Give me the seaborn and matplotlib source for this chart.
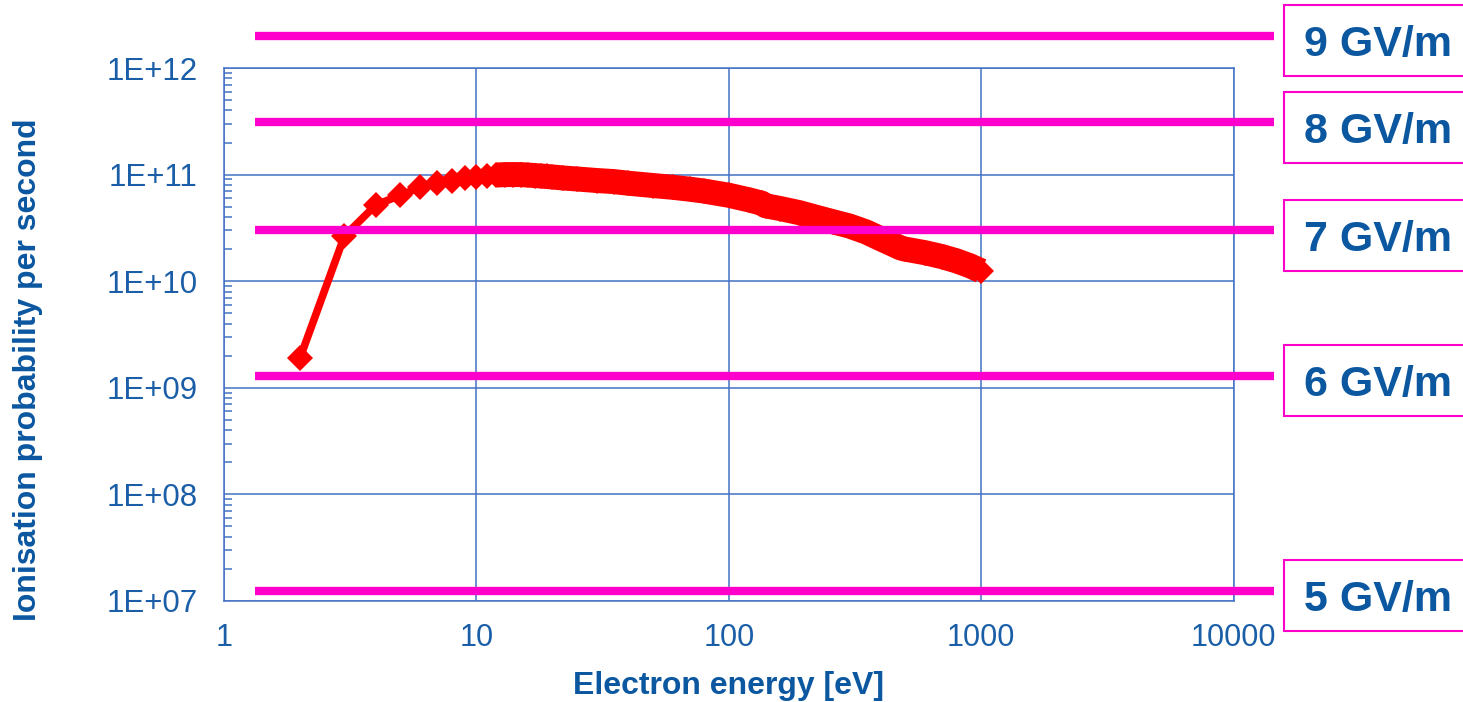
import numpy as np
import pandas as pd
import matplotlib
matplotlib.use("Agg")
import matplotlib.pyplot as plt
import seaborn as sns
from matplotlib.ticker import FixedLocator, LogLocator, FuncFormatter, NullFormatter
from matplotlib.patches import Rectangle
from matplotlib.transforms import IdentityTransform

# ---------------- data ----------------
energy_eV = [2, 3, 4, 5, 6, 7, 8, 9, 10, 11, 12, 13, 14, 15, 16, 17, 18, 19, 20,
             22, 25, 30, 35, 40, 50, 60, 70, 80, 100, 120, 135, 140, 160, 190,
             220, 260, 300, 350, 400, 450, 480, 500, 600, 700, 800, 900, 1000]
ion_prob = [1.9e9, 2.65e10, 5.2e10, 6.4e10, 7.6e10, 8.3e10, 8.8e10, 9.2e10, 9.5e10,
            9.8e10, 9.9e10, 1.0e11, 1.0e11, 1.0e11, 9.9e10, 9.8e10, 9.7e10, 9.6e10, 9.5e10,
            9.3e10, 9.1e10, 8.8e10, 8.6e10, 8.3e10, 7.9e10, 7.6e10, 7.3e10, 7.0e10,
            6.4e10, 5.8e10, 5.4e10, 5.1e10, 4.8e10, 4.4e10, 4.0e10, 3.6e10, 3.3e10,
            2.9e10, 2.5e10, 2.2e10, 2.05e10, 2.0e10, 1.85e10, 1.7e10, 1.55e10, 1.4e10, 1.25e10]

field_labels = ["9 GV/m", "8 GV/m", "7 GV/m", "6 GV/m", "5 GV/m"]
field_levels = [2.0e12, 3.1e11, 3.0e10, 1.3e9, 1.25e7]

x_ticks = [1, 10, 100, 1000, 10000]
y_ticks = [1e7, 1e8, 1e9, 1e10, 1e11, 1e12]

x_label = "Electron energy [eV]"
y_label = "Ionisation probability per second"

# ---------------- style ----------------
sns.set_style("white")
plt.rcParams["font.family"] = ["Liberation Sans", "DejaVu Sans"]

GRID = "#4472C4"
RED = "#FF0000"
MAGENTA = "#FF00CC"
TXT = "#1A5EA8"
BOLD_TXT = "#0B57A0"

W, H = 1463, 702
fig = plt.figure(figsize=(W / 100, H / 100), dpi=100)
ax = fig.add_axes([224 / W, 101 / H, (1233.5 - 224) / W, (601 - 68) / H])

df = pd.DataFrame({"energy": energy_eV, "prob": ion_prob})

# thick band for the densely sampled part of the curve
dense = df[df["energy"] >= 12]
ax.plot(dense["energy"], dense["prob"], color=RED, lw=18,
        solid_capstyle="butt", solid_joinstyle="round", zorder=3)

sns.lineplot(data=df, x="energy", y="prob", ax=ax, color=RED, lw=5.5,
             marker="D", markersize=13.5, markeredgewidth=0, zorder=4)

ax.set_xscale("log")
ax.set_yscale("log")
ax.set_xlim(1, 10000)
ax.set_ylim(1e7, 1e12)

# threshold lines (extend beyond the plot frame)
for lvl in field_levels:
    ax.plot([1.33, 14500], [lvl, lvl], color=MAGENTA, lw=6,
            solid_capstyle="butt", clip_on=False, zorder=6)

# ticks / grid
ax.xaxis.set_major_locator(FixedLocator(x_ticks))
ax.xaxis.set_minor_locator(FixedLocator([]))
ax.xaxis.set_major_formatter(FuncFormatter(lambda v, p: f"{int(round(v))}"))
ax.yaxis.set_major_locator(FixedLocator(y_ticks))
ax.yaxis.set_minor_locator(LogLocator(base=10, subs=np.arange(2, 10)))
ax.yaxis.set_minor_formatter(NullFormatter())
ax.yaxis.set_major_formatter(FuncFormatter(lambda v, p: f"1E+{int(round(np.log10(v))):02d}"))

ax.grid(True, which="major", color=GRID, lw=1.1, zorder=1)
ax.set_axisbelow(True)
for s in ax.spines.values():
    s.set_color(GRID)
    s.set_linewidth(1.1)

ax.tick_params(axis="x", which="major", direction="inout", length=6, width=1.1,
               color=GRID, labelsize=22, labelcolor=TXT, pad=13)
ax.tick_params(axis="y", which="major", direction="inout", length=16, width=1.1,
               color=GRID, labelsize=22.5, labelcolor=TXT, pad=11)
ax.tick_params(axis="y", which="minor", direction="in", length=6, width=1.1,
               color=GRID, left=True)

ax.set_xlabel(x_label, fontsize=23, fontweight="bold", color=BOLD_TXT, labelpad=13)
ax.set_ylabel(y_label, fontsize=23, fontweight="bold", color=BOLD_TXT)
ax.yaxis.set_label_coords(-0.179, 0.433)

# labelled boxes on the right, aligned with the threshold lines
fig.canvas.draw()
for lab, lvl in zip(field_labels, field_levels):
    yd = ax.transData.transform((10, lvl))[1] - 5
    fig.add_artist(Rectangle((1284, yd - 35.5), 220, 71, transform=IdentityTransform(),
                             facecolor="white", edgecolor=MAGENTA, lw=1.5, clip_on=False))
    fig.text(1304 / W, yd / H, lab, fontsize=31, fontweight="bold", color=BOLD_TXT,
             ha="left", va="center_baseline")

fig.savefig("out.png", dpi=100)
